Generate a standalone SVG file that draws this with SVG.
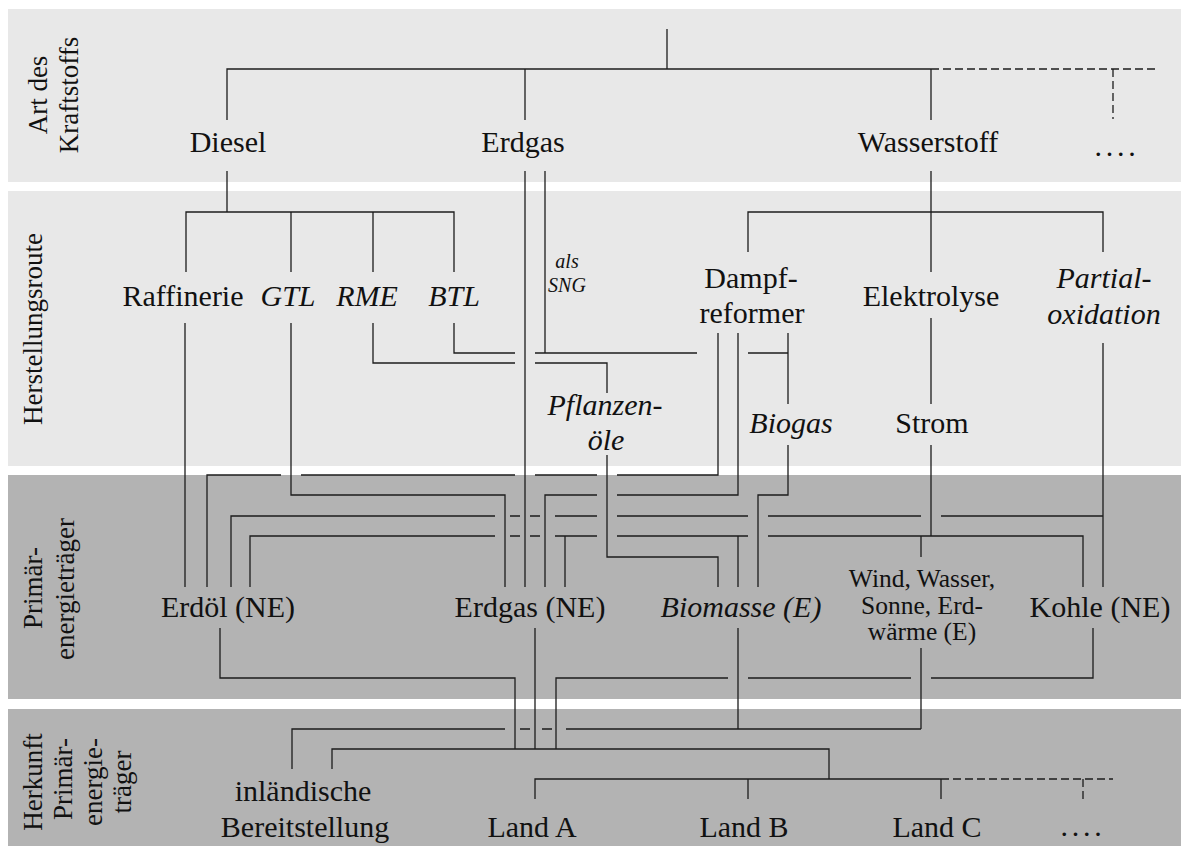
<svg xmlns="http://www.w3.org/2000/svg" width="1181" height="846" viewBox="0 0 1181 846">
<style>
text{font-family:"Liberation Serif","Times New Roman",serif;fill:#111;text-anchor:middle}
.m{font-size:30px}
.i{font-style:italic}
.s{font-size:20px;font-style:italic}
.w{font-size:25.5px}
.side{font-size:27px}
.c path{fill:none;stroke:#1c1c1c;stroke-width:1.3}
.c path.d{stroke-dasharray:8 4}
.dots{letter-spacing:3.7px}
</style>
<g id="bands">
<rect x="8" y="9" width="1173" height="173" fill="#e8e8e8"/>
<rect x="8" y="191" width="1173" height="275" fill="#e8e8e8"/>
<rect x="8" y="475" width="1173" height="224" fill="#b3b3b3"/>
<rect x="8" y="709" width="1173" height="137" fill="#b3b3b3"/>
</g>
<g id="side-labels">
<text class="side" transform="translate(47,95) rotate(-90)">Art des</text>
<text class="side" transform="translate(78,95) rotate(-90)">Kraftstoffs</text>
<text class="side" transform="translate(42,329) rotate(-90)">Herstellungsroute</text>
<text class="side" transform="translate(42,588) rotate(-90)">Primär-</text>
<text class="side" transform="translate(74,589) rotate(-90)">energieträger</text>
<text class="side" transform="translate(42,782) rotate(-90)">Herkunft</text>
<text class="side" transform="translate(72,779) rotate(-90)">Primär-</text>
<text class="side" transform="translate(102,782) rotate(-90)">energie-</text>
<text class="side" transform="translate(131,782) rotate(-90)">träger</text>
</g>
<g class="c" id="connectors">
<path d="M667,29V69"/>
<path d="M227,120V69H931"/>
<path d="M525,69V120"/>
<path d="M931,69V120"/>
<path class="d" d="M931,69H1155M1113,69V119"/>
<path d="M227,171V212M186,272V212H454V272M291,212V272M373,212V272"/>
<path d="M525,171V587"/>
<path d="M545,171V353"/>
<path d="M931,171V272M748,252V212H1103V252"/>
<path d="M185,323V587"/>
<path d="M291,323V495H505V587"/>
<path d="M373,323V363H515M535,363H607V393"/>
<path d="M454,323V353H515M535,353H697M748,353H788"/>
<path d="M788,333V404"/>
<path d="M931,318V404"/>
<path d="M1103,343V587"/>
<path d="M718,333V475H617M597,475H535M515,475H301M281,475H207V587"/>
<path d="M738,333V495H617M597,495H545V587"/>
<path d="M788,445V495H758V587"/>
<path d="M607,455V557H718V587"/>
<path d="M931,445V536M250,587V536H495M510,536H520M530,536H540M555,536H597M617,536H748M768,536H1083V587M565,536V587M738,536V587M921,536V557"/>
<path d="M231,587V516H495M510,516H520M530,516H540M555,516H597M617,516H748M768,516H921M941,516H1103"/>
<path d="M220,628V678H515V749"/>
<path d="M535,628V749"/>
<path d="M1093,628V678H931M911,678H748M728,678H556V749"/>
<path d="M738,628V729"/>
<path d="M921,648V729"/>
<path d="M292,769V729H505M520,729H530M542,729H552M566,729H921"/>
<path d="M332,769V749H829V779"/>
<path d="M535,799V779H941M748,779V799M941,779V799"/>
<path class="d" d="M941,779H1113M1083,779V799"/>
</g>
<g id="diesel"><text class="m" x="228" y="152">Diesel</text></g>
<g id="erdgas"><text class="m" x="523" y="152">Erdgas</text></g>
<g id="wasserstoff"><text class="m" x="928" y="152">Wasserstoff</text></g>
<g id="weitere-kraftstoffe"><text class="m dots" x="1117" y="156">....</text></g>
<g id="raffinerie"><text class="m" x="183" y="306">Raffinerie</text></g>
<g id="gtl"><text class="m i" x="288" y="306">GTL</text></g>
<g id="rme"><text class="m i" x="367" y="306">RME</text></g>
<g id="btl"><text class="m i" x="454" y="306">BTL</text></g>
<g id="als-sng"><text class="s" x="567" y="268">als</text><text class="s" x="567" y="292">SNG</text></g>
<g id="dampfreformer"><text class="m" x="751" y="288">Dampf-</text><text class="m" x="752" y="323">reformer</text></g>
<g id="elektrolyse"><text class="m" x="931" y="306">Elektrolyse</text></g>
<g id="partialoxidation"><text class="m i" x="1104" y="288">Partial-</text><text class="m i" x="1104" y="324">oxidation</text></g>
<g id="pflanzenoele"><text class="m i" x="605" y="415">Pflanzen-</text><text class="m i" x="606" y="450">öle</text></g>
<g id="biogas"><text class="m i" x="791" y="433">Biogas</text></g>
<g id="strom"><text class="m" x="932" y="433">Strom</text></g>
<g id="erdoel-ne"><text class="m" x="228" y="617">Erdöl (NE)</text></g>
<g id="erdgas-ne"><text class="m" x="530" y="617">Erdgas (NE)</text></g>
<g id="biomasse"><text class="m i" x="741" y="617">Biomasse (E)</text></g>
<g id="erneuerbare"><text class="w" x="922" y="587">Wind, Wasser,</text><text class="w" x="922" y="613.5">Sonne, Erd-</text><text class="w" x="922" y="640">wärme (E)</text></g>
<g id="kohle-ne"><text class="m" x="1100" y="617">Kohle (NE)</text></g>
<g id="inland"><text class="m" x="303" y="801">inländische</text><text class="m" x="305" y="837">Bereitstellung</text></g>
<g id="land-a"><text class="m" x="532" y="837">Land A</text></g>
<g id="land-b"><text class="m" x="744" y="837">Land B</text></g>
<g id="land-c"><text class="m" x="937" y="837">Land C</text></g>
<g id="weitere-laender"><text class="m dots" x="1083" y="836">....</text></g>
</svg>
